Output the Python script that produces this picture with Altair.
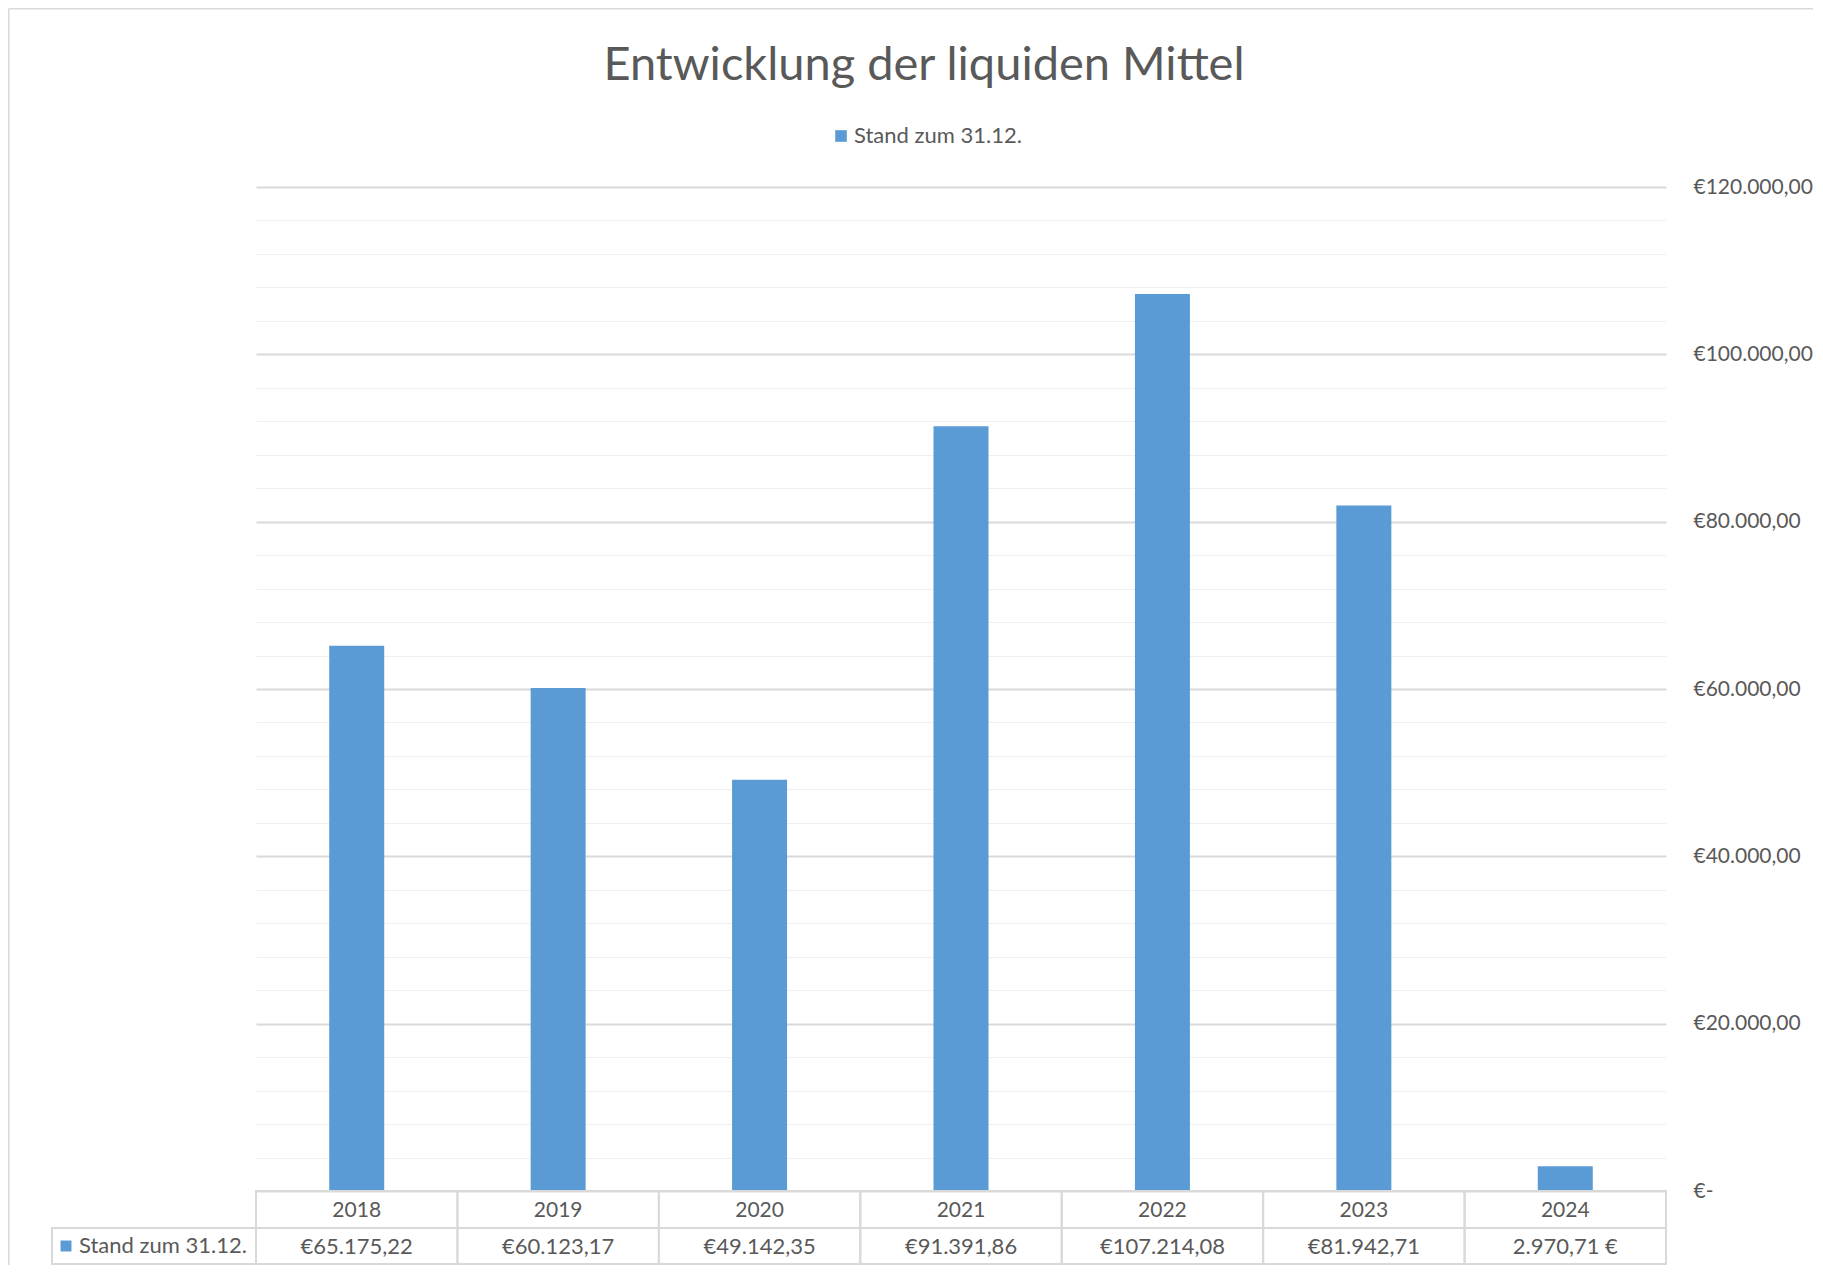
import altair as alt
import pandas as pd

# ---- data ----
years = ["2018", "2019", "2020", "2021", "2022", "2023", "2024"]
values = [65175.22, 60123.17, 49142.35, 91391.86, 107214.08, 81942.71, 2970.71]
value_labels = ["€65.175,22", "€60.123,17", "€49.142,35", "€91.391,86",
                "€107.214,08", "€81.942,71", "2.970,71 €"]
series_name = "Stand zum 31.12."
major_ticks = [0, 20000, 40000, 60000, 80000, 100000, 120000]
minor_ticks = [4000, 8000, 12000, 16000, 24000, 28000, 32000, 36000,
               44000, 48000, 52000, 56000, 64000, 68000, 72000, 76000,
               84000, 88000, 92000, 96000, 104000, 108000, 112000, 116000]
title_text = "Entwicklung der liquiden Mittel"

df = pd.DataFrame({"Jahr": years, "Wert": values, "Label": value_labels,
                   "Serie": [series_name] * len(years)})
one = pd.DataFrame({"Serie": [series_name], "Titel": [title_text]})

W, H = 1410, 1004
PT, PB, PL, PR = 179, 74, 248, 147
FONT = "Lato"
TXT = "#595959"
BAR = "#5B9BD5"
LINE = "#D9D9D9"
ROW1, ROW2 = 37, 73
FS = 21

x = alt.X("Jahr:N", sort=years, scale=alt.Scale(paddingInner=0, paddingOuter=0), axis=None)
yscale = alt.Scale(domain=[0, 120000], nice=False, zero=True)

minor = alt.Chart(df).mark_bar(opacity=0).encode(
    x=x,
    y=alt.Y("Wert:Q", scale=yscale,
            axis=alt.Axis(values=minor_ticks, orient="right", labels=False, ticks=False,
                          domain=False, grid=True, gridColor="#EFEFEF", gridWidth=1, title=None)),
)

label_expr = ("datum.value == 0 ? '€-' : '€' + replace(replace(replace(format(datum.value, ',.2f'), "
              "/,/g, '#'), /\\./g, ','), /#/g, '.')")

bars = alt.Chart(df).mark_bar(size=55).encode(
    x=x,
    y=alt.Y("Wert:Q", scale=yscale,
            axis=alt.Axis(values=major_ticks, orient="right", ticks=False, domain=False,
                          grid=True, gridColor=LINE, gridWidth=2, title=None,
                          labelExpr=label_expr, labelPadding=27, labelFontSize=FS,
                          labelFont=FONT, labelColor=TXT)),
    color=alt.Color("Serie:N", scale=alt.Scale(range=[BAR]),
                    legend=alt.Legend(title=None, orient="none", legendX=574, legendY=-62,
                                      symbolType="square", symbolSize=135, symbolStrokeWidth=0,
                                      labelFontSize=22, labelFont=FONT, labelColor=TXT,
                                      labelLimit=400, labelOffset=2)),
)

title = alt.Chart(one).mark_text(fontSize=47, font=FONT, fontWeight=400, color=TXT,
                                 baseline="alphabetic", align="center").encode(
    x=alt.value(668), y=alt.value(-107), text="Titel:N")

cells_head = alt.Chart(df).mark_rect(filled=False, stroke=LINE, strokeWidth=2).encode(
    x=x, y=alt.value(H), y2=alt.value(H + ROW1))
cells_val = alt.Chart(df).mark_rect(filled=False, stroke=LINE, strokeWidth=2).encode(
    x=x, y=alt.value(H + ROW1), y2=alt.value(H + ROW2))
cell_left = alt.Chart(one).mark_rect(filled=False, stroke=LINE, strokeWidth=2).encode(
    x=alt.value(-204), x2=alt.value(0), y=alt.value(H + ROW1), y2=alt.value(H + ROW2))

year_text = alt.Chart(df).mark_text(fontSize=FS, font=FONT, color=TXT, baseline="middle").encode(
    x=x, y=alt.value(H + ROW1 / 2 + 1), text="Jahr:N")
val_text = alt.Chart(df).mark_text(fontSize=22, font=FONT, color=TXT, baseline="middle").encode(
    x=x, y=alt.value(H + (ROW1 + ROW2) / 2 + 1), text="Label:N")
left_text = alt.Chart(one).mark_text(fontSize=22, font=FONT, color=TXT, baseline="middle",
                                     align="left").encode(
    x=alt.value(-177), y=alt.value(H + (ROW1 + ROW2) / 2), text="Serie:N")
left_sq = alt.Chart(one).mark_point(shape="square", filled=True, size=120, opacity=1).encode(
    x=alt.value(-190), y=alt.value(H + (ROW1 + ROW2) / 2), color=alt.value(BAR))

border_left = alt.Chart(one).mark_rule(color=LINE, strokeWidth=1.5).encode(
    x=alt.value(-PL + 0.75), y=alt.value(-PT + 0.75), y2=alt.value(H + PB))
border_top = alt.Chart(one).mark_rule(color=LINE, strokeWidth=1.5).encode(
    x=alt.value(-PL + 0.75), x2=alt.value(W + PR), y=alt.value(-PT + 0.75))

chart = alt.layer(
    minor, bars, title, cells_head, cells_val, cell_left, year_text, val_text,
    left_text, left_sq, border_left, border_top
).resolve_scale(y="shared").resolve_axis(y="independent").properties(
    width=W, height=H,
    autosize=alt.AutoSizeParams(type="none"),
    padding={"left": PL, "top": PT, "right": PR, "bottom": PB},
    background="white",
).configure_view(stroke=None)

chart.save("out.html", embed_options={"renderer": "svg", "actions": False})
